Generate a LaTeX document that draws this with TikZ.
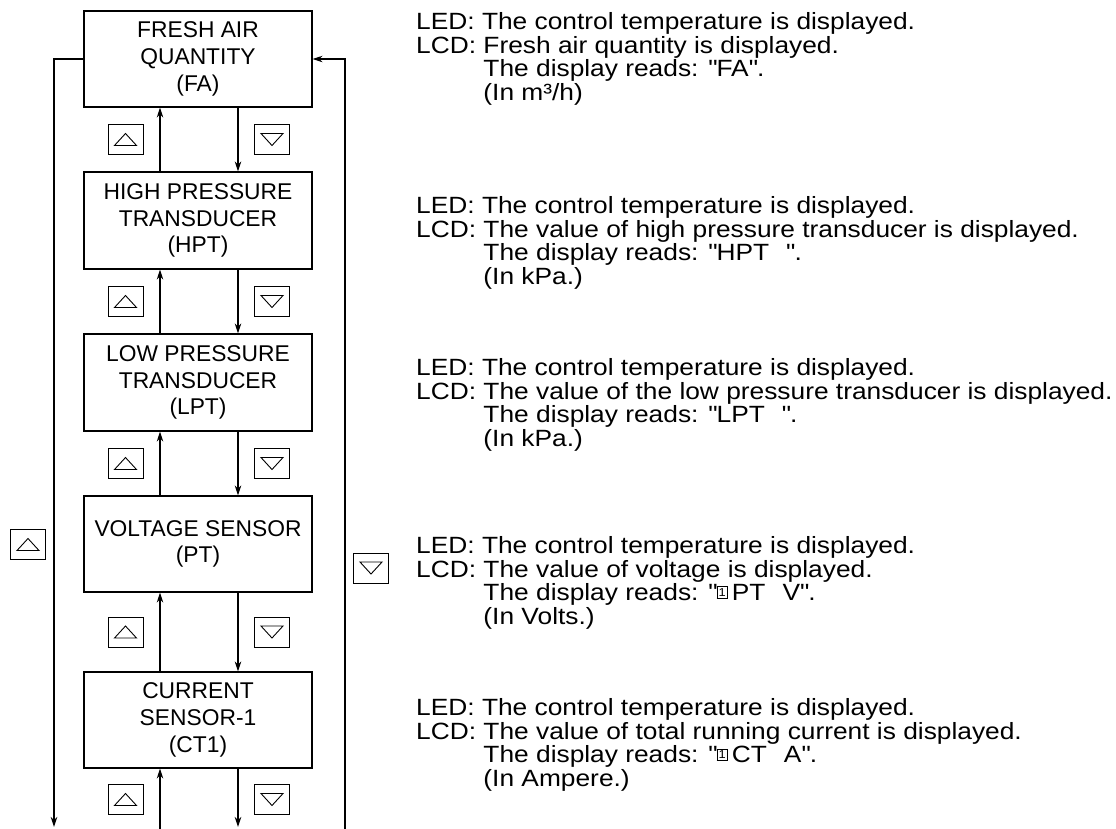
\documentclass[tikz,border=0pt]{standalone}
\usepackage{fontspec}
\setmainfont{Liberation Sans}
\newfontfamily\txtfam{Liberation Sans}[FakeStretch=1.12]
\usetikzlibrary{arrows.meta}
\newcommand\boxfont{\fontsize{22.8}{26.7}\selectfont}
\newcommand\txtfont{\txtfam\fontsize{23.5}{24}\selectfont}
\newcommand\ind{\phantom{LCD:}\ }
\newcommand\gap{\hspace{17pt}}
\newcommand\q{\textquotedbl}
\newcommand\bxone{\raisebox{4pt}{\setlength\fboxsep{1.4pt}\setlength\fboxrule{0.7pt}\fbox{\fontsize{11.5}{11.5}\selectfont 1}}\,}
\begin{document}
\begin{tikzpicture}[x=1pt,y=-1pt,
  box/.style={draw, line width=1.2pt, minimum width=228pt, minimum height=96pt, inner sep=0pt, align=center, font=\boxfont},
  txt/.style={anchor=base west, inner sep=0pt, font=\txtfont},
  link/.style={line width=1.2pt, -{Stealth[length=10pt,width=6.5pt]}},
  btn/.style={draw, line width=1pt, minimum width=35pt, minimum height=30pt, inner sep=0pt},
  tri/.style={line width=0.9pt}]
\useasboundingbox (0,0) rectangle (1116,828);
% boxes
\node[box] (fa)  at (198,59)    {FRESH AIR\\QUANTITY\\(FA)};
\node[box, minimum height=97pt] (hpt) at (198,220.5) {HIGH PRESSURE\\TRANSDUCER\\(HPT)};
\node[box, minimum height=97pt] (lpt) at (198,382.5) {LOW PRESSURE\\TRANSDUCER\\(LPT)};
\node[box] (pt)  at (198,544)   {VOLTAGE SENSOR\\(PT)};
\node[box] (ct)  at (198,720)   {CURRENT\\SENSOR-1\\(CT1)};
% inner arrows
\draw[link] ([xshift=-38pt]hpt.north) -- ([xshift=-38pt]fa.south);
\draw[link] ([xshift=40pt]fa.south) -- ([xshift=40pt]hpt.north);
\draw[link] ([xshift=-38pt]lpt.north) -- ([xshift=-38pt]hpt.south);
\draw[link] ([xshift=40pt]hpt.south) -- ([xshift=40pt]lpt.north);
\draw[link] ([xshift=-38pt]pt.north) -- ([xshift=-38pt]lpt.south);
\draw[link] ([xshift=40pt]lpt.south) -- ([xshift=40pt]pt.north);
\draw[link] ([xshift=-38pt]ct.north) -- ([xshift=-38pt]pt.south);
\draw[link] ([xshift=40pt]pt.south) -- ([xshift=40pt]ct.north);
\coordinate (bu) at (160,829);
\coordinate (bd) at (238,827);
\draw[link] (bu) -- ([xshift=-38pt]ct.south);
\draw[link] ([xshift=40pt]ct.south) -- (bd);
% outer loop
\coordinate (lb) at (54,827);
\coordinate (rb) at (345,829);
\draw[link] (fa.west) -| (lb);
\draw[link] (rb) |- (fa.east);
% buttons
\foreach \n/\y in {1/139.5,2/301.5,3/463.5,4/632,5/799.5}{
  \node[btn] (up\n) at (125.5,\y) {};
  \draw[tri] (up\n.center) ++(-11,6) -- ++(22,0) -- ++(-11,-12) -- cycle;
  \node[btn] (dn\n) at (272,\y) {};
  \draw[tri] (dn\n.center) ++(-11,-6) -- ++(22,0) -- ++(-11,12) -- cycle;
}
\node[btn] (bigup) at (28,544.5) {};
\draw[tri] (bigup.center) ++(-11,6) -- ++(22,0) -- ++(-11,-12) -- cycle;
\node[btn] (bigdn) at (371,568) {};
\draw[tri] (bigdn.center) ++(-11,-6) -- ++(22,0) -- ++(-11,12) -- cycle;
% texts
\node[txt] (t11) at (416,29.5)  {LED: The control temperature is displayed.};
\node[txt] (t12) at (416,53)    {LCD: Fresh air quantity is displayed.};
\node[txt] (t13) at (416,76.5)  {\ind The display reads: \q FA\q.};
\node[txt] (t14) at (416,100)   {\ind (In m³/h)};
\node[txt] (t21) at (416,213.5) {LED: The control temperature is displayed.};
\node[txt] (t22) at (416,237)   {LCD: The value of high pressure transducer is displayed.};
\node[txt] (t23) at (416,260.5) {\ind The display reads: \q HPT\gap\q.};
\node[txt] (t24) at (416,284)   {\ind (In kPa.)};
\node[txt] (t31) at (416,375.5) {LED: The control temperature is displayed.};
\node[txt] (t32) at (416,399)   {LCD: The value of the low pressure transducer is displayed.};
\node[txt] (t33) at (416,422.5) {\ind The display reads: \q LPT\gap\q.};
\node[txt] (t34) at (416,446)   {\ind (In kPa.)};
\node[txt] (t41) at (416,553.5) {LED: The control temperature is displayed.};
\node[txt] (t42) at (416,577)   {LCD: The value of voltage is displayed.};
\node[txt] (t43) at (416,600.5) {\ind The display reads: \q\bxone PT\gap V\q.};
\node[txt] (t44) at (416,624)   {\ind (In Volts.)};
\node[txt] (t51) at (416,715.5) {LED: The control temperature is displayed.};
\node[txt] (t52) at (416,739)   {LCD: The value of total running current is displayed.};
\node[txt] (t53) at (416,762.5) {\ind The display reads: \q\bxone CT\gap A\q.};
\node[txt] (t54) at (416,786)   {\ind (In Ampere.)};
\end{tikzpicture}
\end{document}
